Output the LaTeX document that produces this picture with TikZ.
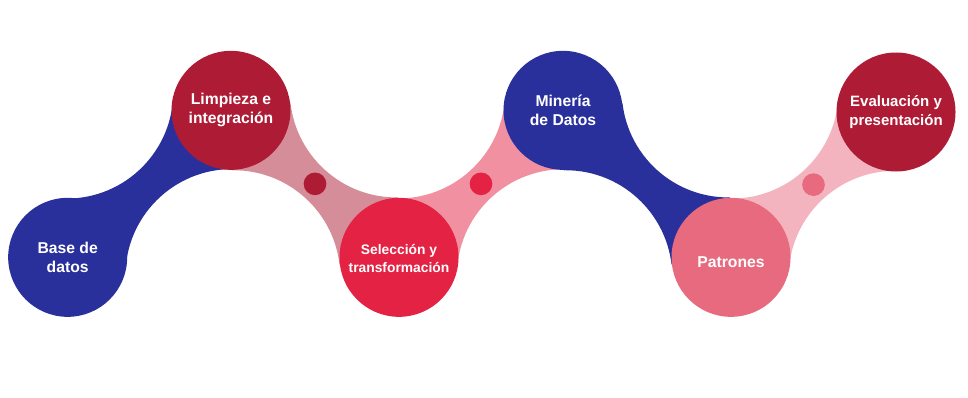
\documentclass[tikz,border=0pt]{standalone}
\usepackage{fontspec}
\setmainfont{Liberation Sans}
\usetikzlibrary{calc,backgrounds}

\definecolor{azul}{HTML}{29309C}
\definecolor{granate}{HTML}{AE1B35}
\definecolor{rojo}{HTML}{E42243}
\definecolor{rosa}{HTML}{E86A7F}

\tikzset{
  etapa/.style={circle, fill=#1, text=white, minimum size=3.57cm, inner sep=0pt,
    align=center, font=\fontsize{13.4}{16.2}\selectfont\bfseries},
  punto/.style={fill=#1}
}

% puente entre dos etapas: cometa entre centros menos los dos arcos de enlace
\newcommand{\puente}[3]{%
  \path ($(#1)!0.5!(#2)!3.71cm!90:(#2)$) coordinate (p1)
        ($(#1)!0.5!(#2)!3.71cm!270:(#2)$) coordinate (p2);
  \begin{scope}
    \clip (#1.center) -- (p1) -- (#2.center) -- (p2) -- cycle;
    \fill[#3, even odd rule] (0,0) rectangle (29.04,11.91)
      (p1) circle[radius=3.2cm] (p2) circle[radius=3.2cm];
  \end{scope}}

\begin{document}
\begin{tikzpicture}
        \useasboundingbox (0,0) rectangle (29.04,11.91);

        \node [etapa=azul] (base) at (2.03, 4.19) {Base de\\datos};
        \node [etapa=granate] (limp) at (6.93, 8.6) {Limpieza e\\integración};
        \node [etapa=rojo, font=\fontsize{11.8}{14.8}\selectfont\bfseries] (sel) at (11.97, 4.19) {\\[-0.15cm]Selección y\\transformación};
        \node [etapa=azul] (min) at (16.89, 8.6) {Minería\\de Datos};
        \node [etapa=rosa] (pat) at (21.93, 4.19) {\raisebox{-0.15cm}[\height][\depth]{Patrones}};
        \node [etapa=granate, font=\fontsize{12.8}{15.8}\selectfont\bfseries] (eval) at (26.88, 8.55) {Evaluación y\\presentación};

        \begin{scope}[on background layer]
          \puente{base}{limp}{azul}
          \puente{limp}{sel}{granate, fill opacity=0.5}
          \puente{sel}{min}{rojo, fill opacity=0.5}
          \puente{min}{pat}{azul}
          \puente{pat}{eval}{rosa, fill opacity=0.5}
        \end{scope}

        \fill[punto=granate] ($(limp)!0.5!(sel)$) circle[radius=0.34cm];
        \fill[punto=rojo] ($(sel)!0.5!(min)$) circle[radius=0.34cm];
        \fill[punto=rosa] ($(pat)!0.5!(eval)$) circle[radius=0.34cm];
\end{tikzpicture}
\end{document}
